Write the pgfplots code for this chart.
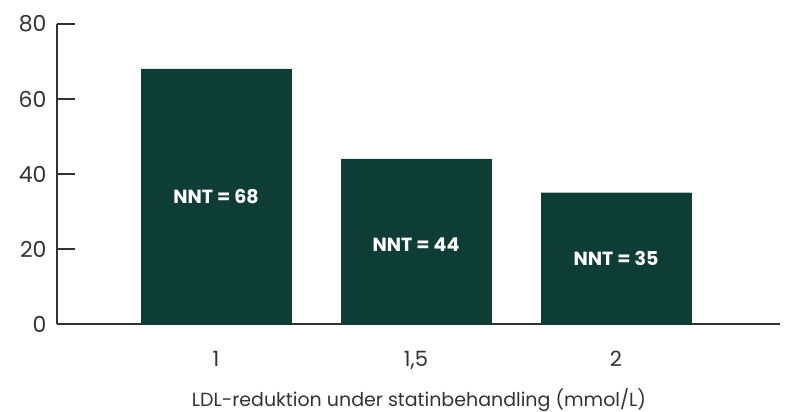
\documentclass[border=0pt]{standalone}
\usepackage{pgfplots}
\pgfplotsset{compat=1.18}
\usepackage{fontspec}
\setmainfont{Poppins}
\definecolor{bargreen}{HTML}{0E3D36}
\definecolor{axgray}{HTML}{333333}
\begin{document}
\begin{tikzpicture}[x=1pt,y=1pt]
\path[use as bounding box] (0,0) rectangle (792,412);
\begin{axis}[
  at={(57pt,88pt)}, anchor=south west,
  scale only axis, width=723pt, height=300pt,
  xmin=0.205, xmax=3.82, ymin=0, ymax=80,
  axis x line=bottom, axis y line=left,
  axis line style={-, axgray, line width=1.4pt},
  xtick={1,2,3}, xticklabels={1,{1,5},2},
  ytick={0,20,40,60,80},
  major tick length=18pt, tick align=inside,
  tick style={axgray, line width=1.4pt},
  x tick style={draw=none},
  xticklabel style={yshift=-6pt, font=\fontsize{21}{24}\selectfont, text=axgray},
  yticklabel style={xshift=-7pt, font=\fontsize{22}{26}\selectfont, text=axgray},
  /pgf/number format/assume math mode=true,
  ybar, bar width=150pt, bar shift=0pt,
  clip=false,
]
\addplot[fill=bargreen, draw=bargreen] coordinates {(1,68) (2,44) (3,35)};
\node[text=white, font=\fontsize{19}{22}\selectfont\bfseries] at (axis cs:1,33.9) {NNT = 68};
\node[text=white, font=\fontsize{19}{22}\selectfont\bfseries] at (axis cs:2,21.1) {NNT = 44};
\node[text=white, font=\fontsize{19}{22}\selectfont\bfseries] at (axis cs:3,17.6) {NNT = 35};
\end{axis}
\node[text=axgray, font=\fontsize{19}{22}\selectfont, inner sep=0pt] at (419,12) {LDL-reduktion under statinbehandling (mmol/L)};
\end{tikzpicture}
\end{document}
